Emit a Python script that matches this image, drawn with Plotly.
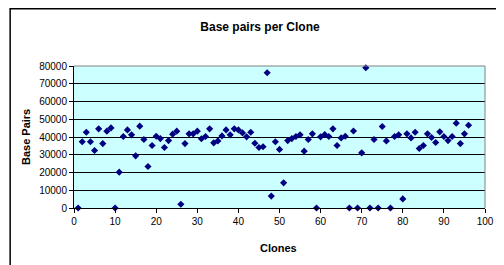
import plotly.graph_objects as go

clones = list(range(1, 97))
base_pairs = [
    0, 37300, 42700, 37300, 32400, 44600, 36300, 43300, 45100, 0,
    20200, 40300, 44000, 41200, 29400, 46100, 38600, 23400, 35200, 40400,
    39100, 34100, 38000, 41600, 43300, 2100, 36300, 41800, 41800, 43300,
    39000, 40300, 44600, 36700, 37800, 40600, 44000, 41200, 44600, 44000,
    42300, 40100, 42700, 36500, 34100, 34500, 76200, 6700, 37300, 33000,
    14200, 38000, 39100, 40300, 41200, 32000, 38600, 41800, 0, 40100,
    41400, 40300, 44600, 35200, 39500, 40400, 0, 43400, 0, 31100,
    79000, 0, 38600, 0, 45900, 37800, 0, 40300, 41200, 5100,
    41800, 39500, 42700, 33500, 35200, 41800, 39700, 36900, 42900, 40300,
    38000, 40300, 47800, 36300, 41800, 46600,
]
x_ticks = [0, 10, 20, 30, 40, 50, 60, 70, 80, 90, 100]
y_ticks = [0, 10000, 20000, 30000, 40000, 50000, 60000, 70000, 80000]

font = "Liberation Sans, Arial, sans-serif"

W, H = 496, 257
L, R, T, B = 66, 10, 58, 57
PW, PH = W - L - R, H - T - B

fig = go.Figure()
fig.add_trace(go.Scatter(
    x=clones, y=base_pairs, mode="markers",
    marker=dict(symbol="diamond", size=5.5, color="#000080"),
    showlegend=False, cliponaxis=False,
))

fig.update_layout(
    width=W, height=H,
    margin=dict(l=L, r=R, t=T, b=B),
    paper_bgcolor="white",
    plot_bgcolor="#CCFFFF",
    font=dict(family=font, size=10, color="black"),
    title=dict(text="<b>Base pairs per Clone</b>", x=252 / W, xanchor="center",
               y=1 - 19 / H, yanchor="middle", font=dict(size=12, family=font)),
    xaxis=dict(range=[0, 100], tickvals=x_ticks, showgrid=False, zeroline=False,
               showline=True, linecolor="black", linewidth=1,
               ticks="outside", ticklen=4, tickcolor="black"),
    yaxis=dict(range=[0, 80000], tickvals=y_ticks, showgrid=True, gridcolor="black",
               gridwidth=1, zeroline=False, showline=True, linecolor="black", linewidth=1,
               ticks="outside", ticklen=4, tickcolor="black", tickformat="d"),
    annotations=[
        dict(text="<b>Clones</b>", xref="paper", yref="paper",
             x=(283 - 8 - L) / PW, y=-(240 - T - PH) / PH,
             xanchor="center", yanchor="middle", showarrow=False,
             font=dict(size=11)),
        dict(text="<b>Base Pairs</b>", xref="paper", yref="paper",
             x=(17 - L) / PW, y=(T + PH - (137 - 8)) / PH,
             xanchor="center", yanchor="middle", showarrow=False, textangle=-90,
             font=dict(size=11)),
    ],
)
# outer chart border (left/top visible in reference)
fig.add_shape(type="rect", xref="paper", yref="paper",
              x0=(0.75 - L) / PW, x1=(W + 20 - L) / PW,
              y0=-(B + 20) / PH, y1=1 + (T - 0.75) / PH,
              line=dict(color="black", width=1.5), fillcolor="rgba(0,0,0,0)", layer="above")
# gray plot-area border on top and right
fig.add_shape(type="line", xref="paper", yref="paper", x0=1, x1=1, y0=0, y1=1,
              line=dict(color="#808080", width=1), layer="above")
fig.add_shape(type="line", xref="paper", yref="paper", x0=0, x1=1, y0=1, y1=1,
              line=dict(color="#808080", width=1), layer="above")

fig.write_html("out.html")
